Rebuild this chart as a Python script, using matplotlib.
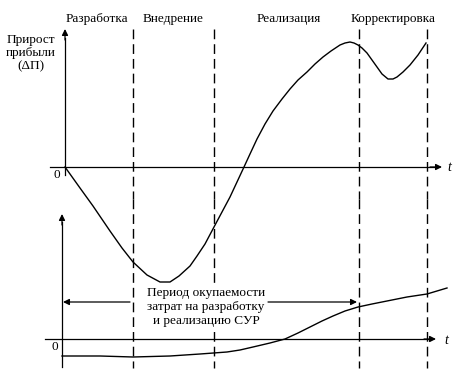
import numpy as np
import matplotlib
matplotlib.use("Agg")
import matplotlib.pyplot as plt

plt.rcParams['font.family'] = ['Liberation Serif', 'DejaVu Serif']
plt.rcParams['lines.scale_dashes'] = False

# phase labels and boundaries (time in picture units)
phases = ['Разработка', 'Внедрение', 'Реализация', 'Корректировка']
phase_mid = [97, 173, 289, 393]
phase_bounds = [133, 214, 359, 427]

# upper curve: profit increment vs time
t_up = [65, 80, 93, 110, 122, 133, 147, 160, 170, 179, 190, 197, 205, 214, 222,
        230, 237, 244, 250, 257, 265, 273, 282, 290, 298, 307, 315, 323, 331,
        340, 345, 350, 354, 358, 362, 367, 372, 377, 382, 388, 393, 397, 403,
        410, 418, 426]
dp_up = [0, -21, -39, -64, -81, -95, -108, -115, -115, -109, -99, -89, -77, -60,
         -45, -30, -15, 0, 13, 28, 43, 56, 68, 78, 87, 95, 103, 110, 116,
         122, 124, 125, 124, 122, 119, 114, 107, 100, 93, 88, 88, 90, 95,
         102, 112, 124]

# lower curve: cumulative effect vs time
t_low = [62, 100, 133, 170, 200, 227, 240, 253, 270, 285, 298, 310, 322, 333,
         345, 358, 372, 387, 407, 427, 447]
e_low = [-17, -17, -18, -17, -15, -13, -11, -8, -4, 0, 6, 12, 18, 23, 28,
         32, 35, 38, 42, 45, 51]

up_y0 = 167
low_y0 = 339

fig = plt.figure(figsize=(4.57, 3.74), dpi=100)
ax = fig.add_axes([0, 0, 1, 1])
ax.set_xlim(0, 457)
ax.set_ylim(374, 0)
ax.axis('off')

arr = dict(arrowstyle='-|>', mutation_scale=9, lw=0.9, color='k',
           shrinkA=0, shrinkB=0)

# upper axes
ax.plot([50, 435], [up_y0, up_y0], color='k', lw=0.9)
ax.annotate('', xy=(442, up_y0), xytext=(430, up_y0), arrowprops=arr)
ax.annotate('', xy=(65, 29), xytext=(65, 40), arrowprops=arr)
ax.plot([65, 65], [38, up_y0 + 8], color='k', lw=0.9)
ax.text(449, up_y0, 't', style='italic', fontsize=10, ha='center', va='center')
ax.text(57, 175, '0', fontsize=9.5, ha='center', va='center')
ax.text(31, 53, 'Прирост\nприбыли\n(ΔП)', fontsize=9.5, ha='center',
        va='center', linespacing=1.15)

# lower axes
ax.plot([45, 430], [low_y0, low_y0], color='k', lw=0.9)
ax.annotate('', xy=(436, low_y0), xytext=(424, low_y0), arrowprops=arr)
ax.annotate('', xy=(62, 214), xytext=(62, 225), arrowprops=arr)
ax.plot([62, 62], [222, 367], color='k', lw=0.9)
ax.text(446, low_y0 + 1, 't', style='italic', fontsize=10, ha='center', va='center')
ax.text(55, 347, '0', fontsize=9.5, ha='center', va='center')

# phase boundaries (upper and lower halves drawn separately)
for y_a, y_b in [(29, 199), (199, 368)]:
    ax.vlines(phase_bounds, y_a, y_b, colors='k', lw=1.0,
              linestyles=[(0, (7, 3.6))], zorder=3)
for name, xm in zip(phases, phase_mid):
    ax.text(xm, 19, name, fontsize=9.5, ha='center', va='center')

# curves
ax.plot(t_up, [up_y0 - v for v in dp_up], color='k', lw=1.0,
        solid_joinstyle='round')
ax.plot(t_low, [low_y0 - v for v in e_low], color='k', lw=1.0,
        solid_joinstyle='round')

# payback period
ax.text(206, 307, 'Период окупаемости\nзатрат на разработку\nи реализацию СУР',
        fontsize=9.5, ha='center', va='center', linespacing=1.2, zorder=5,
        bbox=dict(facecolor='white', edgecolor='none', pad=1.5))
ax.annotate('', xy=(63, 302), xytext=(130, 302), arrowprops=arr)
ax.annotate('', xy=(357, 302), xytext=(268, 302), arrowprops=arr)

fig.savefig('out.png', dpi=100)
